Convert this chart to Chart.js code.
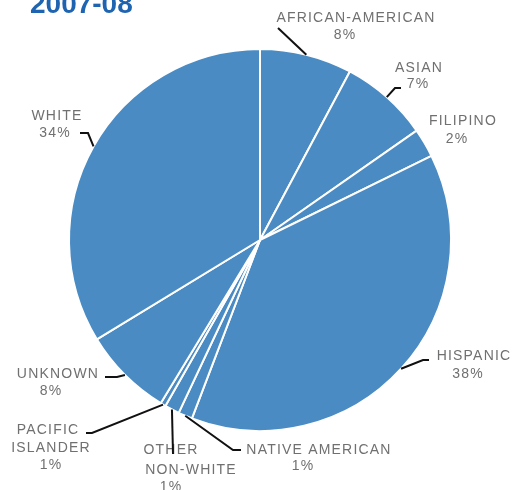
<!DOCTYPE html>
<html lang="en">
<head>
    <meta charset="UTF-8">
    <title>2007-08</title>
    <script src="https://cdn.jsdelivr.net/npm/chart.js"></script>
    <style>
        body { margin: 0; background: #fff; }
        canvas { display: block; }
    </style>
</head>
<body>
    <canvas id="pieChart" width="514" height="490"></canvas>

    <script>
        // Data
        const title = '2007-08';
        const categories = ['AFRICAN-AMERICAN', 'ASIAN', 'FILIPINO', 'HISPANIC', 'NATIVE AMERICAN',
            'OTHER NON-WHITE', 'PACIFIC ISLANDER', 'UNKNOWN', 'WHITE'];
        const shares = [7.8, 7.5, 2.45, 38.05, 1.2, 1.25, 0.45, 7.6, 33.7];
        const pctLabels = ['8%', '7%', '2%', '38%', '1%', '1%', '1%', '8%', '34%'];

        // Label placement (text lines + leader elbows), one entry per slice
        const labelLayout = [
            { wrap: false, lines: [[356, 22], [345, 39]], leader: [[278, 28]] },
            { wrap: false, lines: [[419, 72], [418, 88]], leader: [[395, 88], [401, 88]] },
            { wrap: false, lines: [[463, 125], [457, 143]], leader: null },
            { wrap: false, lines: [[474, 360], [468, 378]], leader: [[423, 360], [429, 360]] },
            { wrap: false, lines: [[319, 454], [303, 470]], leader: [[233, 450], [241, 450]] },
            { wrap: true, lines: [[171, 454], [191, 474], [171, 491]], leader: [[173, 454]] },
            { wrap: true, lines: [[48, 434], [51, 452], [51, 469]], leader: [[92, 433], [86, 433]] },
            { wrap: false, lines: [[58, 378], [51, 395]], leader: [[117, 377], [105, 377]] },
            { wrap: false, lines: [[57, 120], [55, 137]], leader: [[88, 133], [80, 133]] }
        ];

        const labelPlugin = {
            id: 'pieLabels',
            afterDraw(chart) {
                const ctx = chart.ctx;
                const arcs = chart.getDatasetMeta(0).data;
                ctx.save();

                // title, cut off at the top edge
                ctx.fillStyle = '#1f64b0';
                ctx.font = 'bold 28px "Liberation Sans", Arial, sans-serif';
                ctx.textAlign = 'left';
                ctx.textBaseline = 'alphabetic';
                ctx.fillText(title, 30, 13);

                ctx.font = '14px "Liberation Sans", Arial, sans-serif';
                ctx.letterSpacing = '1.2px';
                ctx.fillStyle = '#707070';
                ctx.textAlign = 'center';
                labelLayout.forEach((lay, i) => {
                    const texts = (lay.wrap ? categories[i].split(' ') : [categories[i]]).concat([pctLabels[i]]);
                    texts.forEach((t, k) => {
                        ctx.fillText(t, lay.lines[k][0], lay.lines[k][1]);
                    });

                    if (!lay.leader) return;
                    const arc = arcs[i];
                    const mid = (arc.startAngle + arc.endAngle) / 2;
                    const r = arc.outerRadius;
                    ctx.beginPath();
                    ctx.moveTo(arc.x + Math.cos(mid) * r, arc.y + Math.sin(mid) * r);
                    lay.leader.forEach(p => ctx.lineTo(p[0], p[1]));
                    ctx.strokeStyle = '#111';
                    ctx.lineWidth = 2;
                    ctx.stroke();
                });
                ctx.restore();
            }
        };

        new Chart(document.getElementById('pieChart').getContext('2d'), {
            type: 'pie',
            data: {
                labels: categories,
                datasets: [{
                    data: shares,
                    backgroundColor: '#4a8bc3',
                    borderColor: '#ffffff',
                    borderWidth: 2
                }]
            },
            options: {
                responsive: false,
                animation: false,
                layout: { padding: { left: 68, right: 62, top: 48, bottom: 58 } },
                plugins: {
                    legend: { display: false },
                    tooltip: { enabled: false }
                }
            },
            plugins: [labelPlugin]
        });
    </script>
</body>
</html>
